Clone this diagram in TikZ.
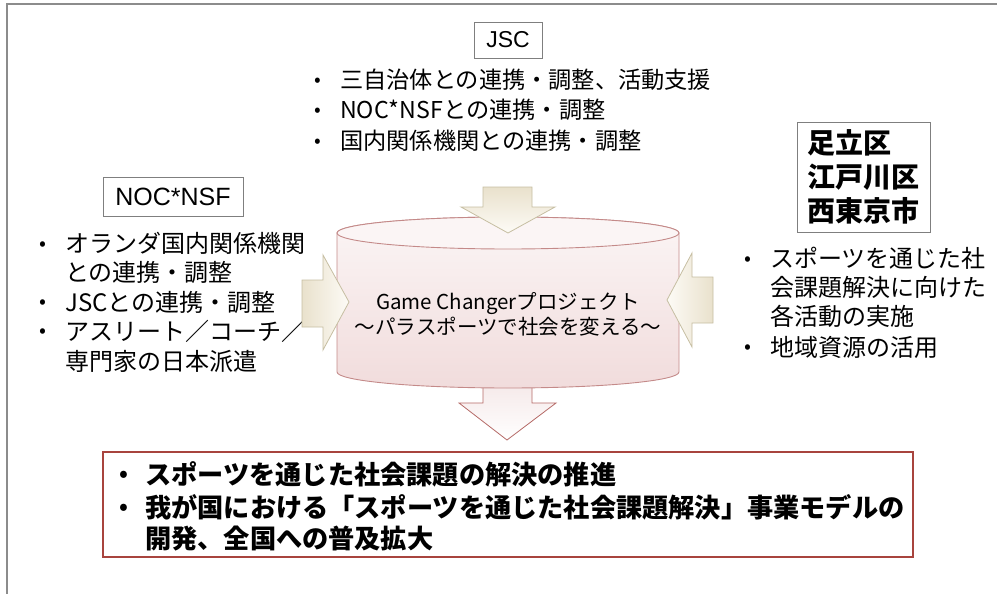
\documentclass[tikz,border=0pt]{standalone}
\usepackage{fontspec}
\setmainfont{Noto Sans CJK JP}
\newfontfamily\lat{Liberation Sans}
\definecolor{framegray}{HTML}{8C8C8C}
\definecolor{boxgray}{HTML}{7F7F7F}
\definecolor{cylborder}{HTML}{C48A89}
\definecolor{cyltop}{HTML}{FBF5F5}
\definecolor{cylbot}{HTML}{F1DCDC}
\definecolor{creamA}{HTML}{E9E1CC}
\definecolor{creamB}{HTML}{FDFBF6}
\definecolor{creamline}{HTML}{C6BEA2}
\definecolor{pinkA}{HTML}{F2E2E2}
\definecolor{pinkline}{HTML}{B56A67}
\definecolor{resborder}{HTML}{A8443E}
\newcommand{\bl}{\makebox[26pt][l]{\raisebox{0.09em}{\scalebox{0.85}{•}}}}
\newcommand{\nobl}{\makebox[26pt][l]{}}
\begin{document}
\begin{tikzpicture}[x=1pt,y=-1pt,
  lbl/.style={draw=boxgray, line width=0.9pt, fill=white, inner sep=0pt},
  line/.style={anchor=west, inner sep=0pt},
  jtxt/.style={line, font=\fontsize{23.2}{28}\selectfont},
  ntxt/.style={line, font=\fontsize{24}{29}\selectfont},
  btxt/.style={line, font=\fontsize{26.2}{31}\bfseries},
  cream/.style={draw=creamline, line width=0.8pt},
]
\useasboundingbox (0,0) rectangle (997,594);
% outer frame
\draw[framegray, line width=2pt] (7,594) -- (7,4) -- (997,4);

% JSC
\node[lbl, minimum width=68pt, minimum height=36pt, font=\lat\fontsize{23}{26}\selectfont] (jsc) at (508,40) {JSC};
\node[jtxt] (j1) at (314,80) {\bl 三自治体との連携・調整、活動支援};
\node[jtxt] (j2) at (314,110) {\bl NOC*NSFとの連携・調整};
\node[jtxt] (j3) at (314,141) {\bl 国内関係機関との連携・調整};

% NOC*NSF
\node[lbl, minimum width=140pt, minimum height=39pt, font=\lat\fontsize{25}{28}\selectfont] (noc) at (173,197) {NOC*NSF};
\node[ntxt] (n1) at (39,243) {\bl オランダ国内関係機関};
\node[ntxt] (n2) at (39,272) {\nobl との連携・調整};
\node[ntxt] (n3) at (39,302) {\bl JSCとの連携・調整};
\node[ntxt] (n4) at (39,331) {\bl アスリート／コーチ／};
\node[ntxt] (n5) at (39,361) {\nobl 専門家の日本派遣};

% municipalities
\node[lbl, minimum width=133pt, minimum height=110pt, align=left,
      font=\fontsize{28}{34}\bfseries] (muni) at (863.5,177) {足立区\\江戸川区\\西東京市};
\node[ntxt] (r1) at (744,258) {\bl スポーツを通じた社};
\node[ntxt] (r2) at (744,287) {\nobl 会課題解決に向けた};
\node[ntxt] (r3) at (744,316) {\nobl 各活動の実施};
\node[ntxt] (r4) at (744,347) {\bl 地域資源の活用};

% bottom arrow (under cylinder)
\draw[draw=pinkline, line width=0.8pt, top color=pinkA, bottom color=white]
  (483,365) -- (483,403) -- (459,403) -- (507,440) -- (556,403) -- (532,403) -- (532,365) -- cycle;

% cylinder
\draw[draw=cylborder, line width=0.9pt, top color=cyltop, bottom color=cylbot]
  (337,233) -- (337,372) arc[start angle=180, end angle=0, x radius=171, y radius=16]
  -- (679,233) arc[start angle=0, end angle=-180, x radius=171, y radius=16] -- cycle;
\draw[draw=cylborder, line width=0.9pt, fill=cyltop] (508,233) ellipse[x radius=171, y radius=16];
\node[font=\fontsize{20.5}{25}\selectfont, align=center, inner sep=0pt] (gc) at (508,314)
  {Game Changerプロジェクト\\～パラスポーツで社会を変える～};

% top arrow
\draw[cream, top color=creamA, bottom color=creamB]
  (483,187) -- (532,187) -- (532,207) -- (555,207) -- (508,233) -- (461,207) -- (483,207) -- cycle;
% left arrow
\draw[cream, left color=creamA, right color=creamB]
  (302,280) -- (323,280) -- (323,255) -- (349,302) -- (323,350) -- (323,327) -- (302,327) -- cycle;
% right arrow
\draw[cream, right color=creamA, left color=creamB]
  (713,277) -- (692,277) -- (692,253) -- (667,300) -- (692,347) -- (692,323) -- (713,323) -- cycle;

% result box
\node[draw=resborder, line width=2pt, fill=white, minimum width=810pt, minimum height=105pt, inner sep=0pt] (res) at (508,504.5) {};
\node[btxt] (b1) at (119,474) {\bl スポーツを通じた社会課題の解決の推進};
\node[btxt] (b2) at (119,507) {\bl 我が国における「スポーツを通じた社会課題解決」事業モデルの};
\node[btxt] (b3) at (119,539) {\nobl 開発、全国への普及拡大};
\end{tikzpicture}
\end{document}
